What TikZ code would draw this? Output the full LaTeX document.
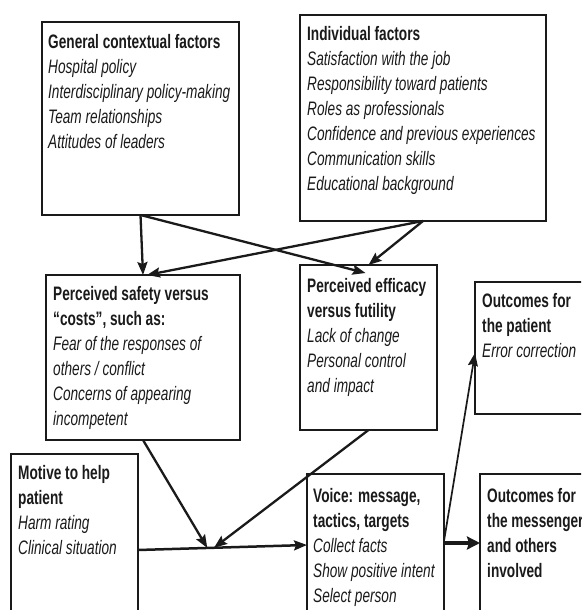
\documentclass[tikz,border=0pt]{standalone}
\usepackage{fontspec}
\setmainfont{Liberation Sans}[FakeStretch=0.70]
\usetikzlibrary{arrows.meta,calc}
\definecolor{ink}{HTML}{1A1A1A}

\begin{document}
\begin{tikzpicture}[x=1pt,y=-1pt,
  panel/.style={draw=ink, line width=1.9pt, anchor=north west, inner sep=0pt, outer sep=0pt},
  paneltext/.style={anchor=north west, inner sep=0pt, align=left, text=ink,
    font=\fontsize{19.5}{25}\selectfont},
  link/.style={draw=ink, line width=2.3pt, -{Stealth[length=13pt,width=10pt,inset=2pt]}},
]
\useasboundingbox (0,0) rectangle (581,610);
\clip (0,0) rectangle (581,610);

% boxes
\node[panel, minimum width=197pt, minimum height=193pt] (gen) at (42,22) {};
\node[panel, minimum width=246pt, minimum height=206pt] (ind) at (300,15) {};
\node[panel, minimum width=194pt, minimum height=165pt] (saf) at (46,275) {};
\node[panel, minimum width=137pt, minimum height=165pt] (eff) at (300,265) {};
\node[panel, minimum width=130pt, minimum height=132pt] (pat) at (475,282) {};
\node[panel, minimum width=127pt, minimum height=200pt] (mot) at (11,454) {};
\node[panel, minimum width=137pt, minimum height=200pt] (voice) at (307,474) {};
\node[panel, minimum width=130pt, minimum height=200pt] (mes) at (480,474) {};

% box texts
\node[paneltext] (genT) at ($(gen.north west)+(6,0)$)
  {\rule{0pt}{26pt}\textbf{General contextual factors}\\
   \textit{Hospital policy}\\
   \textit{Interdisciplinary policy-making}\\
   \textit{Team relationships}\\
   \textit{Attitudes of leaders}};
\node[paneltext] (indT) at ($(ind.north west)+(7,0)$)
  {\rule{0pt}{25pt}\textbf{Individual factors}\\
   \textit{Satisfaction with the job}\\
   \textit{Responsibility toward patients}\\
   \textit{Roles as professionals}\\
   \textit{Confidence and previous experiences}\\
   \textit{Communication skills}\\
   \textit{Educational background}};
\node[paneltext] (safT) at ($(saf.north west)+(7,0)$)
  {\rule{0pt}{25pt}\textbf{Perceived safety versus}\\
   \textbf{“costs”, such as:}\\
   \textit{Fear of the responses of}\\
   \textit{others / conflict}\\
   \textit{Concerns of appearing}\\
   \textit{incompetent}};
\node[paneltext] (effT) at ($(eff.north west)+(7,0)$)
  {\rule{0pt}{27pt}\textbf{Perceived efficacy}\\
   \textbf{versus futility}\\
   \textit{Lack of change}\\
   \textit{Personal control}\\
   \textit{and impact}};
\node[paneltext] (patT) at ($(pat.north west)+(7,0)$)
  {\rule{0pt}{25pt}\textbf{Outcomes for}\\
   \textbf{the patient}\\
   \textit{Error correction}};
\node[paneltext] (motT) at ($(mot.north west)+(7,0)$)
  {\rule{0pt}{25pt}\textbf{Motive to help}\\
   \textbf{patient}\\
   \textit{Harm rating}\\
   \textit{Clinical situation}};
\node[paneltext] (voiceT) at ($(voice.north west)+(6,0)$)
  {\rule{0pt}{28pt}\textbf{Voice: message,}\\
   \textbf{tactics, targets}\\
   \textit{Collect facts}\\
   \textit{Show positive intent}\\
   \textit{Select person}};
\node[paneltext] (mesT) at ($(mes.north west)+(7,0)$)
  {\rule{0pt}{28pt}\textbf{Outcomes for}\\
   \textbf{the messenger}\\
   \textbf{and others}\\
   \textbf{involved}};

% connector end points
\coordinate (mA) at ($(mot.north east)+(0,96)$);
\coordinate (vA) at ($(voice.north west)+(0,71)$);
\coordinate (jA) at ($(mA)!0.41!(vA)$);
\coordinate (jB) at ($(mA)!0.45!(vA)$);

% connectors
\draw[link] (gen.south) -- (saf.north);
\draw[link] (gen.south) -- ($(eff.north)+(-3,8)$);
\draw[link] (ind.south) -- ($(saf.north)+(4,0)$);
\draw[link] (ind.south) -- (eff.north);
\draw[link] (saf.south) -- (jA);
\draw[link] (eff.south) -- (jB);
\draw[link, line width=2.5pt] (mA) -- (vA);
\draw[draw=ink, line width=3.8pt, -{Stealth[length=13pt,width=13pt,inset=2pt]}]
  ($(voice.north east)+(0,69)$) -- ($(mes.north west)+(0,69)$);
\draw[link, line width=1.7pt] ($(voice.north east)+(0,67)$) -- ($(pat.north west)+(0,71)$);
\end{tikzpicture}
\end{document}
